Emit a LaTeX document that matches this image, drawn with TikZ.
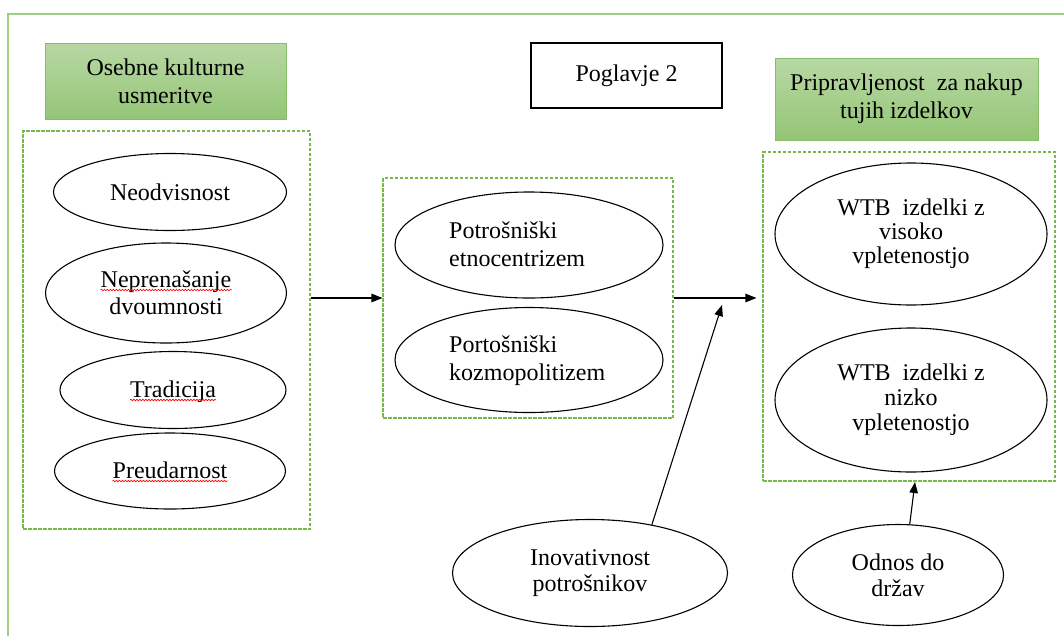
\documentclass[tikz,border=0pt]{standalone}
\usepackage{fontspec}
\setmainfont{Liberation Serif}
\usetikzlibrary{arrows.meta,shapes.geometric,decorations.pathmorphing}

\definecolor{framegreen}{RGB}{158,207,128}
\definecolor{dashgreen}{RGB}{118,186,76}
\definecolor{headborder}{RGB}{132,189,100}
\definecolor{headtop}{RGB}{184,216,164}
\definecolor{headbot}{RGB}{148,197,118}

\begin{document}
\begin{tikzpicture}[x=1pt,y=-1pt,
  every node/.style={font=\fontsize{24}{26}\selectfont},
  oval/.style={ellipse, draw=black, line width=1.1pt, inner sep=0pt, align=center},
  group/.style={draw=dashgreen, dash pattern=on 3.5pt off 1.5pt, line width=1.1pt, inner sep=0pt},
  header/.style={draw=headborder, line width=1pt, top color=headtop, bottom color=headbot,
                 align=center, inner sep=0pt, font=\fontsize{24}{28}\selectfont},
  plainbox/.style={draw=black, line width=1.3pt, inner sep=0pt},
  arr/.style={-{Triangle[length=11pt,width=8.5pt]}, line width=1.1pt},
  spell/.style={draw=red, line width=0.6pt, decorate,
                decoration={snake, amplitude=0.8pt, segment length=3pt}},
  lbl/.style={inner sep=0pt, align=center},
  frame/.style={draw=framegreen, line width=1.6pt}
]
\useasboundingbox (0,0) rectangle (1064,635);
\clip (0,0) rectangle (1064,635);

% outer frame (runs off the page to the right and bottom)
\draw[frame] (8,700) -- (8,14) -- (1100,14);

% group headers
\node[header, minimum width=241pt, minimum height=76pt] (hleft) at (165.5,81)
  {Osebne kulturne\\usmeritve};
\node[header, minimum width=263pt, minimum height=82pt] (hright) at (906.5,99)
  {Pripravljenost\ \ za nakup\\tujih izdelkov};
\node[plainbox, minimum width=191pt, minimum height=65pt] (chap) at (626.5,75.5)
  {Poglavje 2};

% dashed group boxes
\node[group, minimum width=287pt, minimum height=398pt] (leftbox) at (166.5,330) {};
\node[group, minimum width=290pt, minimum height=240pt] (midbox) at (528,298) {};
\node[group, minimum width=292pt, minimum height=329pt] (rightbox) at (909,316.5) {};

% personal cultural orientations
\node[oval, minimum width=233pt, minimum height=77pt] (neo) at (170,192) {Neodvisnost};
\node[oval, minimum width=241pt, minimum height=100pt] (nep) at (166,293) {};
\node[lbl, anchor=base] (neptop) at (166,287) {Neprenašanje};
\node[lbl, anchor=base] (nepbot) at (166,314) {dvoumnosti};
\node[oval, minimum width=226pt, minimum height=77pt] (trad) at (173,390) {};
\node[lbl, anchor=base] (tradtxt) at (173,397) {Tradicija};
\node[oval, minimum width=231pt, minimum height=76pt] (preu) at (170,471) {};
\node[lbl, anchor=base] (preutxt) at (170,478) {Preudarnost};

\draw[spell] ([yshift=-3pt]neptop.base west) -- ([yshift=-3pt]neptop.base east);
\draw[spell] ([yshift=-3pt]tradtxt.base west) -- ([yshift=-3pt]tradtxt.base east);
\draw[spell] ([yshift=-3pt]preutxt.base west) -- ([yshift=-3pt]preutxt.base east);

% consumer attitudes
\node[oval, minimum width=268pt, minimum height=106pt] (etno) at (529,245) {};
\node[lbl, align=left, anchor=west, font=\fontsize{24}{28}\selectfont] (etnotxt) at (449,244)
  {Potrošniški\\etnocentrizem};
\node[oval, minimum width=268pt, minimum height=105pt] (kozmo) at (529,360) {};
\node[lbl, align=left, anchor=west, font=\fontsize{24}{28}\selectfont] (kozmotxt) at (449,361)
  {Portošniški\\kozmopolitizem};

% willingness to buy
\node[oval, minimum width=272pt, minimum height=142pt, font=\fontsize{24}{24}\selectfont] (visoko) at (911,234)
  {WTB\ \ izdelki z\\visoko\\vpletenostjo};
\node[oval, minimum width=272pt, minimum height=144pt, font=\fontsize{24}{25}\selectfont] (nizko) at (911,400)
  {WTB\ \ izdelki z\\nizko\\vpletenostjo};

% moderators
\node[oval, minimum width=275pt, minimum height=107pt] (inov) at (590,573)
  {Inovativnost\\potrošnikov};
\node[oval, minimum width=211pt, minimum height=101pt] (odnos) at (898,575)
  {Odnos do\\držav};

% arrow end points
\coordinate (jointip) at ([xshift=-6pt]rightbox.west |- midbox.east);
\coordinate (inovtip) at (722,305);
\coordinate (odnostip) at (915,482);

% connectors
\draw[arr] (leftbox.east |- midbox.west) -- (midbox.west);
\draw[arr] (midbox.east) -- (jointip);
\draw[arr] (inov.38) -- (inovtip);
\draw[arr] (odnos.77) -- (odnostip);
\end{tikzpicture}
\end{document}
